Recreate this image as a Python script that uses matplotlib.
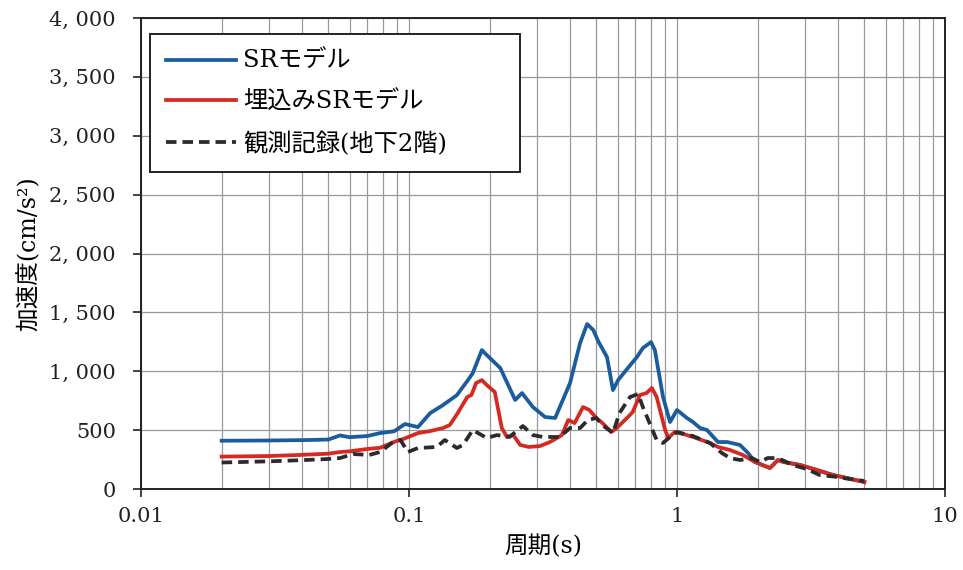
import matplotlib
matplotlib.use("Agg")
import matplotlib.pyplot as plt
from matplotlib.ticker import FixedLocator, LogLocator, NullFormatter

plt.rcParams["font.family"] = ["DejaVu Serif", "Noto Sans CJK JP"]

# SRモデル
sr_t = [0.02, 0.03, 0.04, 0.05, 0.0553, 0.06, 0.07, 0.078, 0.088, 0.0966, 0.108,
        0.12, 0.134, 0.151, 0.166, 0.173, 0.187, 0.195, 0.219, 0.249, 0.264,
        0.29, 0.322, 0.351, 0.399, 0.435, 0.462, 0.487, 0.51, 0.548, 0.577,
        0.603, 0.656, 0.709, 0.746, 0.80, 0.827, 0.887, 0.942, 1.0, 1.089,
        1.147, 1.22, 1.294, 1.422, 1.54, 1.718, 1.84, 1.955, 2.223, 2.38, 2.5,
        2.88, 3.33, 3.82, 4.31, 5.0]
sr_v = [410, 412, 415, 420, 455, 440, 450, 475, 490, 552, 526,
        645, 713, 798, 925, 985, 1180, 1138, 1028, 756, 815,
        696, 611, 603, 900, 1240, 1401, 1350, 1248, 1121, 840,
        925, 1028, 1121, 1197, 1248, 1180, 781, 569, 671, 603,
        569, 518, 501, 399, 399, 374, 306, 229, 178, 246, 229,
        204, 161, 119, 93, 59]

# 埋込みSRモデル
em_t = [0.02, 0.03, 0.04, 0.05, 0.0553, 0.06, 0.07, 0.078, 0.088, 0.0966, 0.108,
        0.12, 0.134, 0.142, 0.152, 0.165, 0.171, 0.178, 0.187, 0.195, 0.209,
        0.222, 0.232, 0.245, 0.26, 0.28, 0.308, 0.336, 0.372, 0.393, 0.415,
        0.446, 0.471, 0.50, 0.527, 0.569, 0.596, 0.656, 0.684, 0.727, 0.77,
        0.806, 0.84, 0.903, 0.928, 0.98, 1.089, 1.147, 1.327, 1.422, 1.577,
        1.76, 1.955, 2.223, 2.38, 2.5, 2.88, 3.33, 3.82, 4.31, 5.0]
em_v = [275, 280, 290, 300, 314, 320, 340, 350, 400, 430, 475,
        492, 518, 543, 645, 781, 798, 900, 925, 883, 824,
        518, 442, 458, 374, 357, 365, 399, 458, 586, 560,
        696, 671, 603, 560, 484, 518, 611, 654, 798, 815,
        858, 781, 501, 433, 484, 458, 442, 391, 357, 331,
        289, 229, 178, 246, 229, 204, 161, 119, 93, 59]

# 観測記録(地下2階)
ob_t = [0.02, 0.03, 0.04, 0.05, 0.0553, 0.0618, 0.071, 0.078, 0.0872, 0.093,
        0.099, 0.108, 0.127, 0.136, 0.151, 0.159, 0.173, 0.195, 0.213, 0.237,
        0.266, 0.29, 0.316, 0.365, 0.399, 0.435, 0.465, 0.50, 0.527, 0.577,
        0.61, 0.668, 0.716, 0.746, 0.79, 0.84, 0.887, 0.942, 1.0, 1.147,
        1.327, 1.47, 1.577, 1.72, 1.9, 2.04, 2.18, 2.32, 2.47, 2.7, 3.05,
        3.4, 3.97, 4.4, 5.0]
ob_v = [225, 235, 245, 255, 263, 297, 289, 314, 399, 416,
        314, 348, 357, 416, 348, 374, 501, 433, 458, 442,
        535, 458, 442, 442, 518, 518, 586, 603, 543, 475,
        645, 781, 807, 696, 560, 416, 391, 442, 484, 450,
        391, 306, 263, 246, 263, 229, 263, 263, 246, 204, 170,
        119, 102, 85, 68]

labels = ["SRモデル", "埋込みSRモデル", "観測記録(地下2階)"]
y_ticks = [0, 500, 1000, 1500, 2000, 2500, 3000, 3500, 4000]
x_ticks = [0.01, 0.1, 1, 10]
x_tick_labels = ["0.01", "0.1", "1", "10"]

fig = plt.figure(figsize=(9.63, 5.70), dpi=100)
ax = fig.add_axes([0.1464, 0.1421, 0.8349, 0.8263])

ax.plot(sr_t, sr_v, color="#1a5c9e", lw=2.7, label=labels[0])
ax.plot(em_t, em_v, color="#d42a22", lw=2.7, label=labels[1])
ax.plot(ob_t, ob_v, color="#2b2b2b", lw=2.7, ls=(0, (2.8, 1.6)), label=labels[2])

ax.set_xscale("log")
ax.set_xlim(0.01, 10)
ax.set_ylim(0, 4000)
ax.xaxis.set_major_locator(FixedLocator(x_ticks))
ax.set_xticklabels(x_tick_labels)
ax.xaxis.set_minor_locator(LogLocator(base=10, subs=range(2, 10)))
ax.xaxis.set_minor_formatter(NullFormatter())
ax.set_yticks(y_ticks)
ax.set_yticklabels([f"{v:,}".replace(",", ", ") for v in y_ticks])

ax.grid(True, which="both", axis="x", color="#9a9a9a", lw=0.9)
ax.grid(True, which="major", axis="y", color="#9a9a9a", lw=0.9)
ax.tick_params(axis="both", which="major", direction="out", length=6, width=1.2,
               labelsize=15, colors="#222222")
ax.tick_params(axis="x", which="minor", length=0)
ax.tick_params(axis="x", pad=7)
ax.tick_params(axis="y", pad=12)
for s in ax.spines.values():
    s.set_linewidth(1.4)
    s.set_color("#222222")

ax.set_xlabel("周期(s)", fontsize=17, labelpad=6)
ax.set_ylabel("加速度(cm/s²)", fontsize=17, labelpad=6)

# legend box stretched to the width it has in the original
leg = ax.legend(loc="upper left", bbox_to_anchor=(0.011, 0.965, 0.46, 0.0),
                mode="expand", borderaxespad=0,
                fontsize=17.5, handlelength=2.9, handletextpad=0.3, labelspacing=0.72,
                borderpad=0.65, fancybox=False, framealpha=1, edgecolor="#222222")
leg.get_frame().set_linewidth(1.4)

plt.savefig("out.png", dpi=100)
